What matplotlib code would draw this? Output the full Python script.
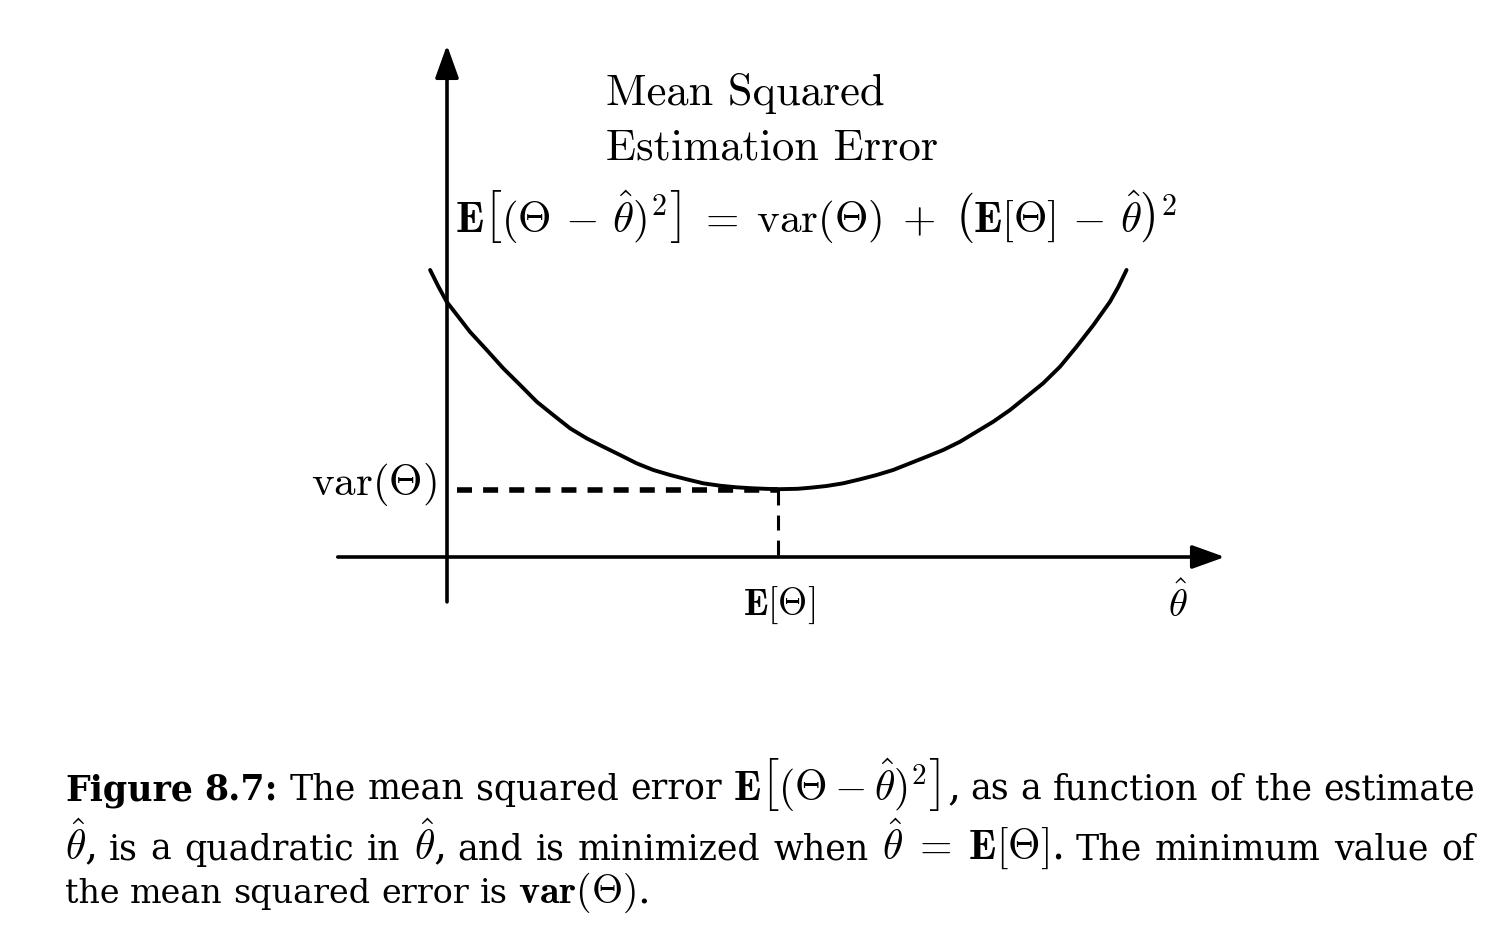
import matplotlib
matplotlib.use("Agg")
import matplotlib.pyplot as plt
from matplotlib.transforms import IdentityTransform

plt.rcParams["mathtext.fontset"] = "cm"
plt.rcParams["font.family"] = "cmr10"
plt.rcParams["axes.unicode_minus"] = False

# mean squared error curve (estimate theta_hat vs MSE)
theta_hat = [-0.051, -0.026, -0.001, 0.034, 0.069, 0.120, 0.170, 0.221, 0.271,
             0.321, 0.372, 0.422, 0.472, 0.523, 0.573, 0.623, 0.674, 0.724,
             0.774, 0.825, 0.875, 0.925, 0.976, 1.0, 1.06, 1.10, 1.147, 1.197,
             1.248, 1.298, 1.348, 1.399, 1.449, 1.499, 1.550, 1.600, 1.650,
             1.701, 1.751, 1.801, 1.852, 1.902, 1.953, 2.003, 2.028, 2.053]
mse = [4.284, 4.037, 3.810, 3.587, 3.363, 3.090, 2.816, 2.567, 2.318,
       2.119, 1.920, 1.771, 1.646, 1.522, 1.398, 1.299, 1.224, 1.160,
       1.100, 1.064, 1.040, 1.025, 1.015, 1.012, 1.018, 1.035, 1.060, 1.100,
       1.160, 1.224, 1.299, 1.399, 1.497, 1.597, 1.721, 1.870, 2.019,
       2.194, 2.393, 2.593, 2.840, 3.139, 3.463, 3.810, 4.030, 4.284]
e_theta = 1.0    # E[Theta], where the minimum sits
var_theta = 1.0  # var(Theta), the minimum value

W, H = 1506, 942
fig = plt.figure(figsize=(W / 100, H / 100), dpi=100)
ax = fig.add_axes([0, 0, 1, 1])
# origin of the sketch sits at pixel (447, 557); 331 px per unit across, 67 px per unit up
ax.set_xlim(-447 / 331, (W - 447) / 331)
ax.set_ylim(-(H - 557) / 67, 557 / 67)
ax.axis("off")

# axes with arrows
arrow = dict(arrowstyle="-|>,head_length=1.0,head_width=0.36", mutation_scale=20,
             lw=2.6, color="black", shrinkA=0, shrinkB=0)
ax.annotate("", xy=(2.35, 0), xytext=(-0.33, 0), arrowprops=arrow)
ax.annotate("", xy=(0, 7.64), xytext=(0, -0.67), arrowprops=arrow)

# the quadratic
ax.plot(theta_hat, mse, color="black", lw=2.8, solid_joinstyle="round",
        solid_capstyle="round")

# dashed guides to the minimum
ax.plot([0.03, e_theta], [var_theta, var_theta], color="black", lw=4,
        ls=(0, (2.7, 2.0)))
ax.plot([e_theta, e_theta], [var_theta, 0], color="black", lw=2.2,
        ls=(0, (4.9, 3.3)))


def px(x, y):
    return x / W, 1 - y / H


# labels in the plot
fig.text(*px(606, 105), "Mean Squared", fontsize=32, va="baseline")
fig.text(*px(606, 160), "Estimation Error", fontsize=32, va="baseline")
fig.text(*px(455, 232),
         r"$\mathbf{E}\left[(\Theta\,-\,\hat{\theta})^2\right]\;=\;\mathrm{var}(\Theta)"
         r"\;+\;\left(\mathbf{E}[\Theta]\,-\,\hat{\theta}\right)^2$",
         fontsize=31, va="baseline")
fig.text(*px(437, 495), r"$\mathrm{var}(\Theta)$", fontsize=31, ha="right",
         va="baseline")
fig.text(*px(779, 615), r"$\mathbf{E}[\Theta]$", fontsize=27, ha="center",
         va="baseline")
fig.text(*px(1178, 617), r"$\hat{\theta}$", fontsize=28, ha="center",
         va="baseline")

# caption, set word by word so the first two lines are justified
serif, bold = "DejaVu Serif", "bold"
line1 = [("Figure", bold), ("8.7:", bold), ("The", None), ("mean", None),
         ("squared", None), ("error", None),
         (r"$\mathbf{E}\left[(\mathbf{\Theta}-\hat{\theta})^2\right]$,", None),
         ("as", None), ("a", None), ("function", None), ("of", None),
         ("the", None), ("estimate", None)]
line2 = [(r"$\hat{\theta}$,", None), ("is", None), ("a", None),
         ("quadratic", None), ("in", None), (r"$\hat{\theta}$,", None),
         ("and", None), ("is", None), ("minimized", None), ("when", None),
         (r"$\hat{\theta}\;=\;\mathbf{E}[\Theta]$.", None), ("The", None),
         ("minimum", None), ("value", None), ("of", None)]
line3 = [("the", None), ("mean", None), ("squared", None), ("error", None),
         ("is", None), (r"$\mathbf{var}(\mathbf{\Theta})$.", None)]

renderer = fig.canvas.get_renderer()


def caption_line(words, base_y, x_left, x_right=None, size=25):
    # math pieces in Computer Modern look small next to the text face
    texts = [fig.text(0, 0, w, fontsize=size * 1.2 if "$" in w else size,
                      family=serif, fontweight=wt or "normal", va="baseline",
                      transform=IdentityTransform()) for w, wt in words]
    widths = [t.get_window_extent(renderer).width for t in texts]
    if x_right is None:
        gap = size * 100 / 72 * 0.32
    else:
        gap = (x_right - x_left - sum(widths)) / (len(texts) - 1)
    x = x_left
    for t, w in zip(texts, widths):
        t.set_position((x, H - base_y))
        x += w + gap


caption_line(line1, 800, 65, 1475)
caption_line(line2, 860, 65, 1475)
caption_line(line3, 903, 65, size=24)

fig.savefig("out.png", dpi=100)
